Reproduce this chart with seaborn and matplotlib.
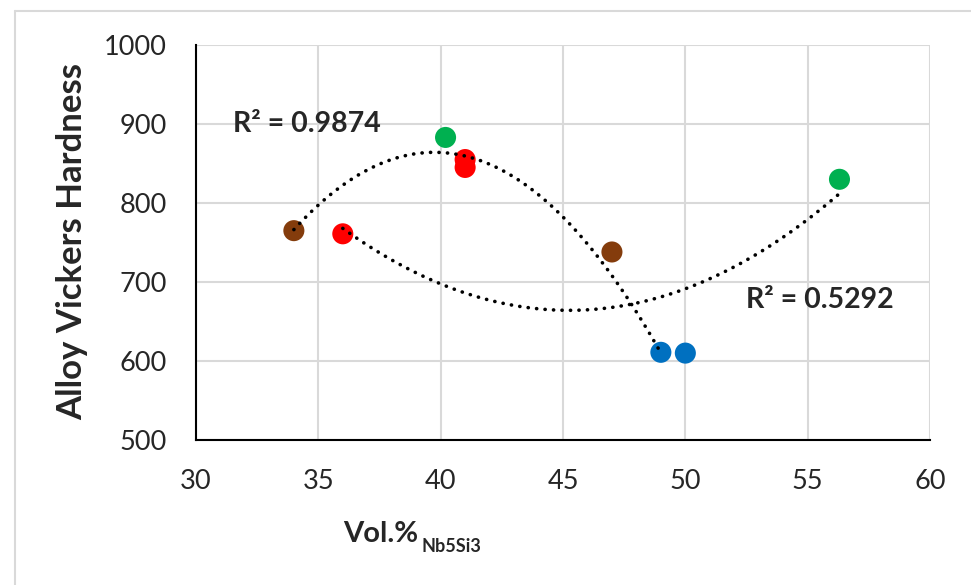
import numpy as np
import pandas as pd
import matplotlib
matplotlib.use("Agg")
import matplotlib.pyplot as plt
import seaborn as sns
from matplotlib.lines import Line2D

# Data
vol_a = [34.0, 40.2, 41.0, 41.0, 49.0]
hv_a = [765, 883, 855, 845, 611]
col_a = ["brown", "green", "red", "red", "blue"]

vol_b = [36.0, 47.0, 50.0, 56.3]
hv_b = [761, 738, 610, 830]
col_b = ["red", "brown", "blue", "green"]

r2_labels = ["R² = 0.9874", "R² = 0.5292"]
x_ticks = [30, 35, 40, 45, 50, 55, 60]
y_ticks = [500, 600, 700, 800, 900, 1000]

palette = {"brown": "#843C0C", "red": "#FF0000", "green": "#00B050", "blue": "#0070C0"}

sns.set_style("white")
plt.rcParams["font.family"] = ["Lato", "DejaVu Sans"]

df = pd.DataFrame({
    "vol": vol_a + vol_b,
    "hv": hv_a + hv_b,
    "grp": col_a + col_b,
})

W, H = 971, 585
fig = plt.figure(figsize=(W/100, H/100), dpi=100)
ax = fig.add_axes([196/W, 1-440/H, (930-196)/W, (440-45)/H])

# trendlines (order-2 polynomial fits)
for xs, ys in [(vol_a, hv_a), (vol_b, hv_b)]:
    c = np.polyfit(xs, ys, 2)
    xx = np.linspace(min(xs), max(xs), 200)
    ax.plot(xx, np.polyval(c, xx), color="black", lw=2.6,
            linestyle=(0, (0.05, 2.3)), dash_capstyle="round", zorder=3)

sns.scatterplot(data=df, x="vol", y="hv", hue="grp", palette=palette,
                s=230, edgecolor="none", legend=False, ax=ax, zorder=2)

ax.set_xlabel("")
ax.set_ylabel("")
ax.set_xlim(30, 60)
ax.set_ylim(500, 1000)
ax.set_xticks(x_ticks)
ax.set_yticks(y_ticks)
ax.tick_params(axis="both", labelsize=19.5, length=0)
ax.tick_params(axis="y", pad=21)
ax.tick_params(axis="x", pad=21)
ax.grid(True, color="#d9d9d9", lw=1.5)
ax.set_axisbelow(True)
for s in ["top", "right"]:
    ax.spines[s].set_visible(False)
for s in ["left", "bottom"]:
    ax.spines[s].set_color("black")
    ax.spines[s].set_linewidth(1.5)

# axis titles
fig.text(72/W, 1-242/H, "Alloy Vickers Hardness", fontsize=25, fontweight="bold",
         rotation=90, ha="center", va="center")

renderer = fig.canvas.get_renderer()
t_main = fig.text(0, 1-542/H, "Vol.%", fontsize=21, fontweight="bold",
                  ha="left", va="baseline")
t_sub = fig.text(0, 1-552/H, "Nb5Si3", fontsize=13, fontweight="bold",
                 ha="left", va="baseline")
w_main = t_main.get_window_extent(renderer).width
w_sub = t_sub.get_window_extent(renderer).width
gap = 3
total = w_main + gap + w_sub
x0 = 412 - total / 2
t_main.set_x(x0 / W)
t_sub.set_x((x0 + w_main + gap) / W)

ax.text(31.5, 900, r2_labels[0], fontsize=20.5, fontweight="bold", va="center", ha="left")
ax.text(52.5, 677, r2_labels[1], fontsize=20.5, fontweight="bold", va="center", ha="left")

# outer chart border (left and top)
fig.add_artist(Line2D([14.5/W, 14.5/W], [0, 1-11/H], transform=fig.transFigure,
                      color="#d9d9d9", lw=1.5))
fig.add_artist(Line2D([14.5/W, 1], [1-11/H, 1-11/H], transform=fig.transFigure,
                      color="#d9d9d9", lw=1.5))

fig.savefig("out.png", dpi=100)
